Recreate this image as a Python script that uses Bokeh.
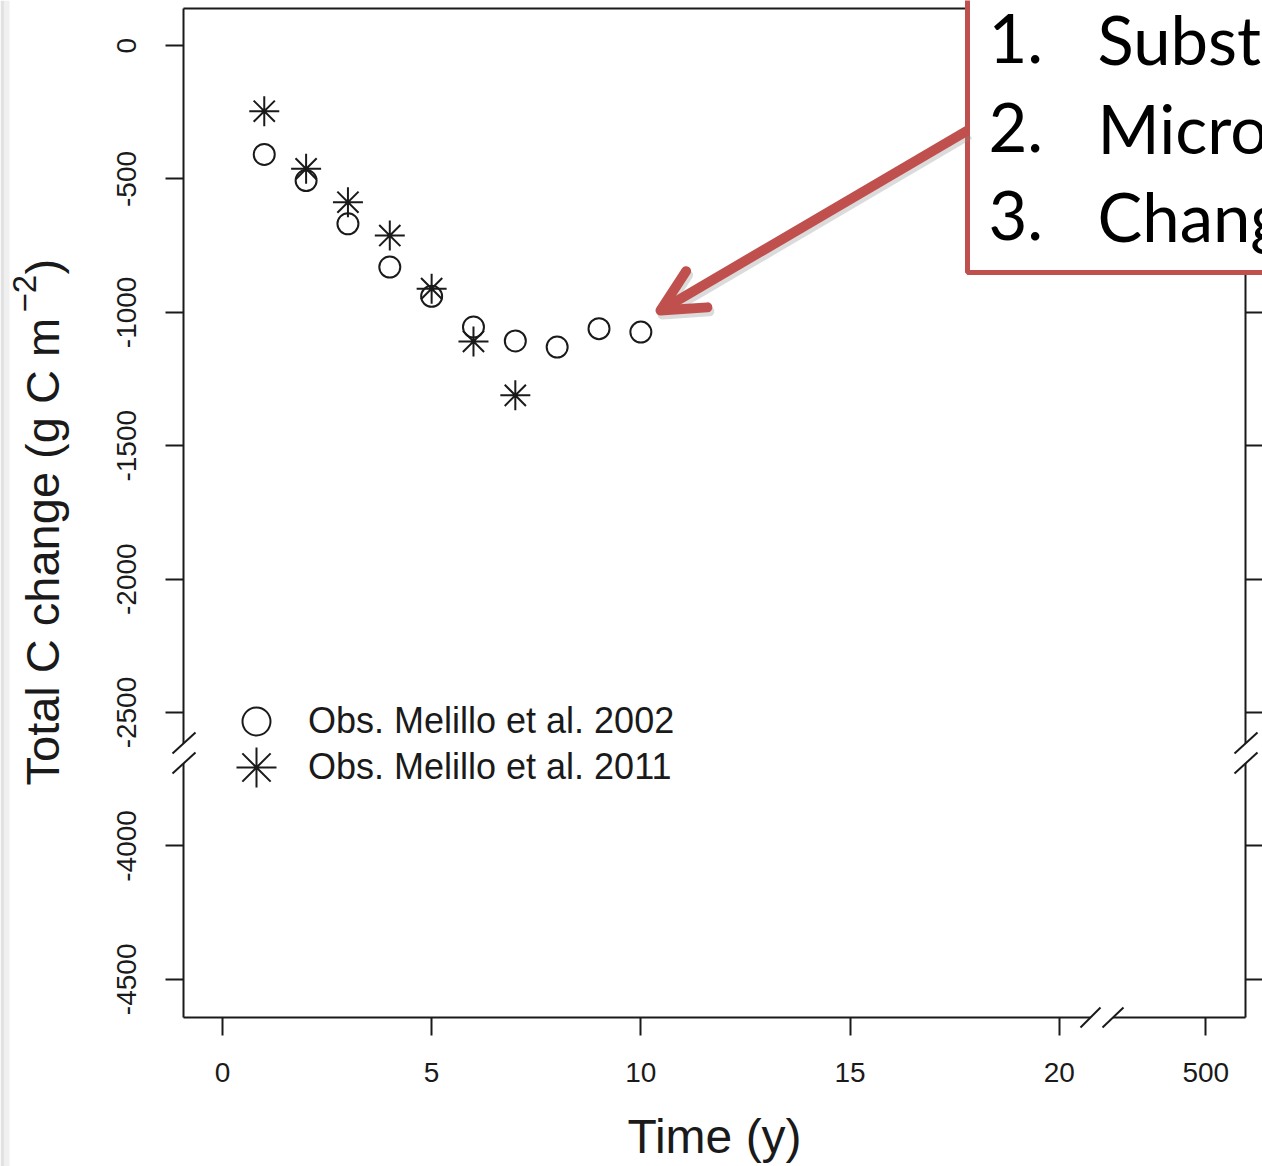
import math
from bokeh.plotting import figure
from bokeh.models import (Range1d, LinearAxis, FixedTicker, Legend, LegendItem,
                          Label, PolyAnnotation, Arrow, OpenHead)
from bokeh.embed import file_html
from bokeh.resources import INLINE

# ---------------- data ----------------
years_2002 = [1, 2, 3, 4, 5, 6, 7, 8, 9, 10]
total_c_2002 = [-408, -506, -668, -830, -940, -1055, -1107, -1130, -1061, -1074]
years_2011 = [1, 2, 3, 4, 5, 6, 7]
total_c_2011 = [-246, -462, -587, -712, -911, -1109, -1311]

series_labels = ["Obs. Melillo et al. 2002", "Obs. Melillo et al. 2011"]

x_tick_values = [0, 5, 10, 15, 20, 500]
x_tick_labels = ["0", "5", "10", "15", "20", "500"]
y_tick_values = [0, -500, -1000, -1500, -2000, -2500, -4000, -4500]
y_tick_labels = ["0", "-500", "-1000", "-1500", "-2000", "-2500", "-4000", "-4500"]

x_title = "Time (y)"
y_title_main = "Total C change (g C m"
y_title_sup = "\u22122"
y_title_end = ")"

box_numbers = ["1.", "2.", "3."]
box_words = ["Subst", "Micro", "Chang"]

# broken-axis mapping (axis position of a value)
def x_pos(v):
    return v if v <= 20 else 23.5          # 500 is drawn after the break

def y_pos(v):
    return v if v >= -2500 else v + 1000   # lower segment shifted up by 1000

# ---------------- layout ----------------
W, H = 1262, 1166
FL, FR, FT, FB = 183, 1245, 8, 1017      # plot box in pixels
XR0, XR1 = -0.93, 24.45                  # data extent of the plot box
YR0, YR1 = -3643, 139
INK = "#1a1a1a"
RED = "#C0504D"

def dx(px):
    return XR0 + (px - FL) * (XR1 - XR0) / (FR - FL)

def dy(py):
    return YR1 - (py - FT) * (YR1 - YR0) / (FB - FT)

# the frame fills the whole canvas; the axes sit at fixed locations
p = figure(width=W, height=H, x_range=Range1d(dx(0), dx(W)), y_range=Range1d(dy(H), dy(0)),
           output_backend="svg", toolbar_location=None,
           x_axis_type=None, y_axis_type=None,
           min_border_left=0, min_border_right=0, min_border_top=0,
           min_border_bottom=0, outline_line_color=None,
           background_fill_color="white", border_fill_color="white")

def style_axis(ax, tick_out):
    ax.axis_line_color = INK
    ax.axis_line_width = 2
    ax.major_tick_line_color = INK
    ax.major_tick_line_width = 2
    ax.major_tick_out = tick_out
    ax.major_tick_in = 0
    ax.minor_tick_line_color = None
    ax.major_label_text_font = "Liberation Sans"
    ax.major_label_text_font_size = "28px"
    ax.major_label_text_color = INK

xt = [x_pos(v) for v in x_tick_values]
yt = [y_pos(v) for v in y_tick_values]

bottom = LinearAxis(ticker=FixedTicker(ticks=xt), fixed_location=YR0, bounds=(XR0, XR1),
                    major_label_overrides={t: l for t, l in zip(xt, x_tick_labels)})
style_axis(bottom, 18)
bottom.major_label_standoff = 27
bottom.axis_label = x_title
bottom.axis_label_text_font = "Liberation Sans"
bottom.axis_label_text_font_size = "48px"
bottom.axis_label_text_font_style = "normal"
bottom.axis_label_text_color = INK
bottom.axis_label_standoff = 25
p.add_layout(bottom, "below")

left = LinearAxis(ticker=FixedTicker(ticks=yt), fixed_location=XR0, bounds=(YR0, YR1),
                  major_label_overrides={t: l for t, l in zip(yt, y_tick_labels)})
style_axis(left, 18)
left.major_label_standoff = 29
left.major_label_orientation = "vertical"
p.add_layout(left, "left")

right = LinearAxis(ticker=FixedTicker(ticks=yt), fixed_location=XR1, bounds=(YR0, YR1),
                   major_label_overrides={t: "" for t in yt})
style_axis(right, 18)
right.major_label_standoff = 0
right.major_label_text_font_size = "0px"
p.add_layout(right, "right")

top = LinearAxis(ticker=FixedTicker(ticks=[]), fixed_location=YR1, bounds=(XR0, XR1))
style_axis(top, 0)
top.major_label_standoff = 0
top.major_label_text_font_size = "0px"
p.add_layout(top, "above")

# ---------------- data marks ----------------
r1 = p.scatter(years_2002, total_c_2002, marker="circle", size=21,
               fill_color=None, line_color=INK, line_width=2)
r2 = p.scatter(years_2011, total_c_2011, marker="asterisk", size=30,
               line_color=INK, line_width=2)

# legends (two, so each symbol gets its own size)
for rend, lab, glyph, standoff, cy in [(r1, series_labels[0], 70, 17, 721),
                                       (r2, series_labels[1], 100, 2, 767)]:
    lg = Legend(items=[LegendItem(label=lab, renderers=[rend])],
                location=(256 - glyph / 2, H - (cy + glyph / 2)),
                glyph_width=glyph, glyph_height=glyph, label_standoff=standoff,
                padding=0, margin=0, spacing=0, border_line_color=None,
                background_fill_alpha=0, label_text_font="Liberation Sans",
                label_text_font_size="36px", label_text_color=INK)
    p.add_layout(lg)

# ---------------- axis breaks ----------------
def add_break(a0, a1, b0, b1):
    xs = [a0[0], a1[0], b1[0], b0[0]]
    ys = [a0[1], a1[1], b1[1], b0[1]]
    p.add_layout(PolyAnnotation(xs=[dx(v) for v in xs], ys=[dy(v) for v in ys],
                                fill_color="white", fill_alpha=1, line_color=None))
    for s, e in [(a0, a1), (b0, b1)]:
        p.add_layout(Arrow(start=None, end=None, x_start=dx(s[0]), y_start=dy(s[1]),
                           x_end=dx(e[0]), y_end=dy(e[1]), line_color=INK, line_width=2))

add_break((172, 753), (195, 732), (172, 773), (195, 752))          # left axis
add_break((1234, 753), (1257, 732), (1234, 773), (1257, 752))      # right axis
add_break((1080, 1027), (1100, 1007), (1102, 1027), (1123, 1007))  # bottom axis

# ---------------- y title ----------------
def ylab(px, py, text, size):
    p.add_layout(Label(x=dx(px), y=dy(py), text=text, angle=math.pi / 2,
                       text_align="left", text_baseline="alphabetic",
                       text_font="Liberation Sans", text_font_size=size, text_color=INK))

ylab(42, 785, y_title_main, "47px")
ylab(24, 312, y_title_sup, "33px")
ylab(42, 274, y_title_end, "47px")

# ---------------- callout box & arrow ----------------
p.add_layout(PolyAnnotation(xs=[dx(v) for v in [967, 1300, 1300, 967]],
                            ys=[dy(v) for v in [-30, -30, 272, 272]],
                            fill_color="white", fill_alpha=1,
                            line_color=RED, line_alpha=1, line_width=5))
for i, (num, word) in enumerate(zip(box_numbers, box_words)):
    base = [38, 127, 215][i]
    p.add_layout(Label(x=dx(988), y=dy(base), text=num, text_align="left",
                       text_baseline="alphabetic", text_font="Lato",
                       text_font_size="67px", text_color="black"))
    p.add_layout(Label(x=dx(1097), y=dy(base), text=word, text_align="left",
                       text_baseline="alphabetic", text_font="Lato",
                       text_font_size="67px", text_color="black"))

p.add_layout(Arrow(end=OpenHead(size=42, line_color="#888888", line_alpha=0.3, line_width=10,
                                line_cap="round", line_join="round"),
                   x_start=dx(969), y_start=dy(134), x_end=dx(662), y_end=dy(314),
                   line_color="#888888", line_alpha=0.3, line_width=10))
p.add_layout(Arrow(end=OpenHead(size=42, line_color=RED, line_width=10,
                                line_cap="round", line_join="round"),
                   x_start=dx(967), y_start=dy(130), x_end=dx(660), y_end=dy(310),
                   line_color=RED, line_width=10))

# faint slide edge on the left
for x0, x1, c in [(0, 4, "#e2e2e2"), (4, 9, "#f0f0f0")]:
    p.add_layout(PolyAnnotation(xs=[dx(x0), dx(x1), dx(x1), dx(x0)],
                                ys=[dy(0), dy(0), dy(H), dy(H)],
                                fill_color=c, fill_alpha=1, line_color=None))

open("out.html", "w").write(file_html(p, INLINE))
